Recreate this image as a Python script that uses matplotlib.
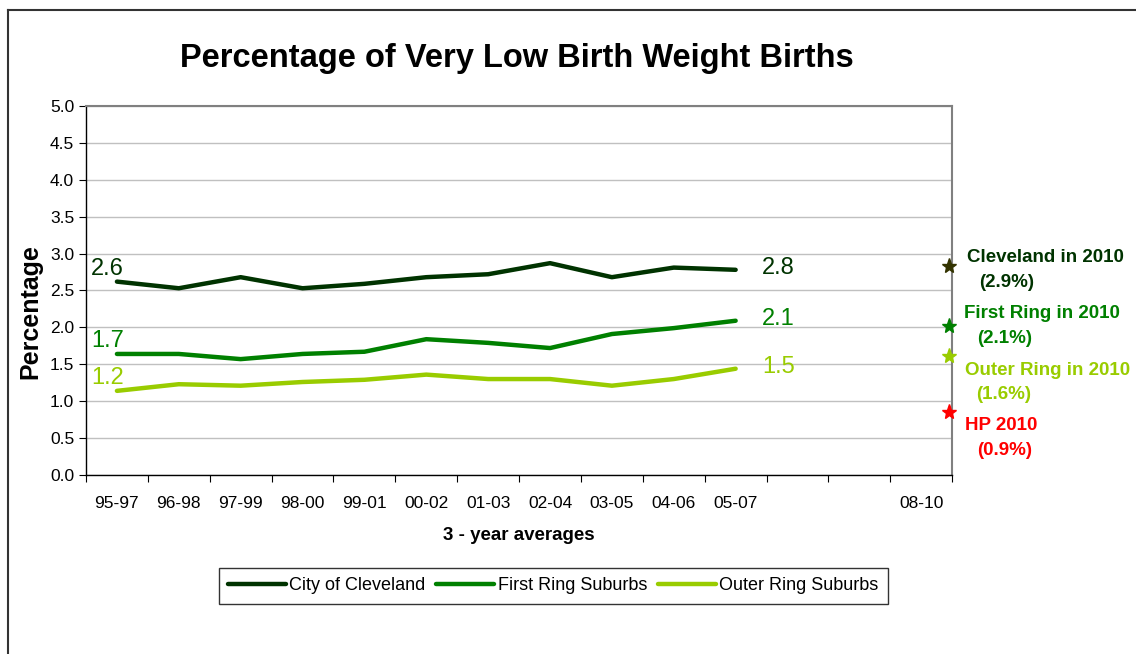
import matplotlib.pyplot as plt
from matplotlib.lines import Line2D

plt.rcParams['font.family'] = ['Liberation Sans', 'DejaVu Sans']

# 3-year average periods (two empty slots before 08-10)
periods = ['95-97', '96-98', '97-99', '98-00', '99-01', '00-02', '01-03',
           '02-04', '03-05', '04-06', '05-07', '', '', '08-10']

cleveland = [2.62, 2.53, 2.68, 2.53, 2.59, 2.68, 2.72, 2.87, 2.68, 2.81, 2.78]
first_ring = [1.64, 1.64, 1.57, 1.64, 1.67, 1.84, 1.79, 1.72, 1.91, 1.99, 2.09]
outer_ring = [1.14, 1.23, 1.21, 1.26, 1.29, 1.36, 1.30, 1.30, 1.21, 1.30, 1.44]

series_names = ['City of Cleveland', 'First Ring Suburbs', 'Outer Ring Suburbs']
series_colors = ['#003300', '#008000', '#99CC00']
start_labels = ['2.6', '1.7', '1.2']
end_labels = ['2.8', '2.1', '1.5']

# 2010 values shown as stars on the right edge
targets = ['Cleveland in 2010', 'First Ring in 2010', 'Outer Ring in 2010', 'HP 2010']
target_pct = ['(2.9%)', '(2.1%)', '(1.6%)', '(0.9%)']
target_vals = [2.83, 2.02, 1.61, 0.85]
star_colors = ['#333300', '#008000', '#99CC00', '#FF0000']
text_colors = ['#003300', '#008000', '#99CC00', '#FF0000']
# pixel offsets of the two text lines from each star
name_off = [(18, 9), (15, 12), (16, -14), (16, -13)]
pct_off = [(30, -16), (28, -13), (27, -38), (28, -38)]

fig = plt.figure(figsize=(11.36, 6.54), dpi=100)
ax = fig.add_axes([0.0757, 0.2737, 0.7625, 0.5643])

x = list(range(len(cleveland)))
all_series = [cleveland, first_ring, outer_ring]
for vals, name, col in zip(all_series, series_names, series_colors):
    ax.plot(x, vals, color=col, linewidth=3.2, label=name,
            solid_capstyle='round')

# value labels at both ends
for vals, col, s, e in zip(all_series, series_colors, start_labels, end_labels):
    ax.annotate(s, (x[0], vals[0]), xytext=(-7, 9), textcoords='offset points',
                ha='center', va='center', fontsize=17, color=col)
    ax.annotate(e, (x[-1], vals[-1]), xytext=(31, 1), textcoords='offset points',
                ha='center', va='center', fontsize=17, color=col)

# stars + labels on the right
n = len(periods)
for i in range(len(targets)):
    ax.plot(n - 0.55, target_vals[i], marker='*', markersize=11,
            color=star_colors[i], clip_on=False, zorder=5)
    ax.annotate(targets[i], (n - 0.55, target_vals[i]), xytext=name_off[i],
                textcoords='offset pixels', ha='left', va='center',
                fontsize=13.5, fontweight='bold', color=text_colors[i],
                annotation_clip=False)
    ax.annotate(target_pct[i], (n - 0.55, target_vals[i]), xytext=pct_off[i],
                textcoords='offset pixels', ha='left', va='center',
                fontsize=13.5, fontweight='bold', color=text_colors[i],
                annotation_clip=False)

ax.set_xlim(-0.5, n - 0.5)
ax.set_ylim(0, 5)
ax.set_yticks([i * 0.5 for i in range(11)])
ax.set_yticklabels(['%.1f' % (i * 0.5) for i in range(11)], fontsize=12.5)

# boundary ticks as major, labels on minor
ax.set_xticks([i - 0.5 for i in range(n + 1)])
ax.set_xticklabels([])
ax.set_xticks(list(range(n)), minor=True)
ax.set_xticklabels(periods, minor=True, fontsize=12.5)
ax.tick_params(axis='x', which='major', length=5, direction='out')
ax.tick_params(axis='x', which='minor', length=0, pad=15)
ax.tick_params(axis='y', length=5, direction='out')

ax.grid(axis='y', color='#c0c0c0', linewidth=1)
ax.set_axisbelow(True)
for side in ['top', 'right']:
    ax.spines[side].set_color('#808080')
    ax.spines[side].set_linewidth(1.5)
for side in ['left', 'bottom']:
    ax.spines[side].set_color('black')
    ax.spines[side].set_linewidth(1)

ax.set_ylabel('Percentage', fontsize=18, fontweight='bold')
ax.yaxis.set_label_coords(-0.05, 0.444)
ax.set_xlabel('3 - year averages', fontsize=13.5, fontweight='bold')
ax.xaxis.set_label_coords(0.5, -0.141)

fig.text(0.455, 0.911, 'Percentage of Very Low Birth Weight Births',
         ha='center', va='center', fontsize=23.5, fontweight='bold')

leg = fig.legend(loc='center', bbox_to_anchor=(0.487, 0.104), ncol=3,
                 fontsize=13, frameon=True, fancybox=False,
                 handlelength=3.2, handletextpad=0.2, columnspacing=0.6,
                 borderpad=0.5)
leg.get_frame().set_edgecolor('black')
leg.get_frame().set_linewidth(1)

# outer chart border (left and top edges visible)
fig.add_artist(Line2D([8 / 1136, 8 / 1136], [0, 1 - 10 / 654],
                      transform=fig.transFigure, color='#333333', linewidth=1.5))
fig.add_artist(Line2D([8 / 1136, 1], [1 - 10 / 654, 1 - 10 / 654],
                      transform=fig.transFigure, color='#333333', linewidth=1.5))

fig.savefig('out.png', dpi=100)
